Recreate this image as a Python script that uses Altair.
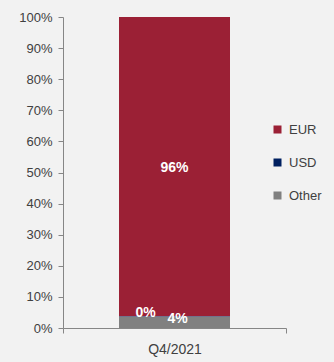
import altair as alt
import pandas as pd

quarters = ["Q4/2021", "Q4/2021", "Q4/2021"]
currencies = ["EUR", "USD", "Other"]
shares = [0.962, 0.002, 0.036]
labels = ["96%", "0%", "4%"]
stack_order = [2, 1, 0]
colors = ["#9b2035", "#002060", "#808080"]
y_ticks = [0, 0.1, 0.2, 0.3, 0.4, 0.5, 0.6, 0.7, 0.8, 0.9, 1.0]

df = pd.DataFrame({
    "quarter": quarters,
    "currency": currencies,
    "share": shares,
    "label": labels,
    "ord": stack_order,
})

FONT = "Liberation Sans"

base = alt.Chart(df)

x_axis = alt.Axis(labelAngle=0, tickBand="extent", tickSize=5,
                  labelFontSize=14, labelColor="#404040", labelFont=FONT,
                  domainColor="#868686", tickColor="#868686", labelPadding=9)
x_scale = alt.Scale(paddingInner=0, paddingOuter=0)
y_axis = alt.Axis(values=y_ticks, format=".0%", tickCount=11,
                  grid=False, tickSize=5, labelFontSize=13,
                  labelColor="#404040", labelFont=FONT,
                  labelOverlap=False, labelFlush=False,
                  domainColor="#868686", tickColor="#868686", labelPadding=6)
y_scale = alt.Scale(domain=[0, 1], nice=False)

bars = base.mark_bar(size=111).encode(
    x=alt.X("quarter:N", title=None, scale=x_scale, axis=x_axis),
    y=alt.Y("share:Q", stack="zero", title=None, scale=y_scale, axis=y_axis),
    color=alt.Color("currency:N",
                    scale=alt.Scale(domain=currencies, range=colors),
                    legend=alt.Legend(title=None, orient="none", legendX=208, legendY=106,
                                      symbolType="square", symbolSize=64,
                                      symbolStrokeWidth=0,
                                      labelFontSize=13, labelFont=FONT,
                                      labelColor="#404040", rowPadding=19,
                                      labelOffset=5)),
    order=alt.Order("ord:Q", sort="ascending"),
)

stacked = base.transform_stack(
    stack="share", as_=["y0", "y1"], groupby=["quarter"],
    sort=[alt.SortField("ord", order="ascending")],
).transform_calculate(mid="(datum.y0 + datum.y1) / 2")

def label_layer(cur, dx, dy):
    return stacked.transform_filter(alt.datum.currency == cur).mark_text(
        color="white", fontWeight="bold", fontSize=14, font=FONT, dx=dx, dy=dy
    ).encode(x=alt.X("quarter:N", title=None, scale=x_scale, axis=x_axis),
             y=alt.Y("mid:Q", title=None, scale=y_scale, axis=y_axis),
             text="label:N")

chart = alt.layer(
    bars,
    label_layer("EUR", 0, 1),
    label_layer("USD", -29, -3),
    label_layer("Other", 3, -3),
).properties(
    width=223, height=311,
    background="#f2f2f2",
    padding={"left": 63, "top": 17, "right": 48, "bottom": 34},
    autosize=alt.AutoSizeParams(type="none"),
).configure_view(stroke=None)

chart.save("out.html", embed_options={"renderer": "svg", "actions": False})
